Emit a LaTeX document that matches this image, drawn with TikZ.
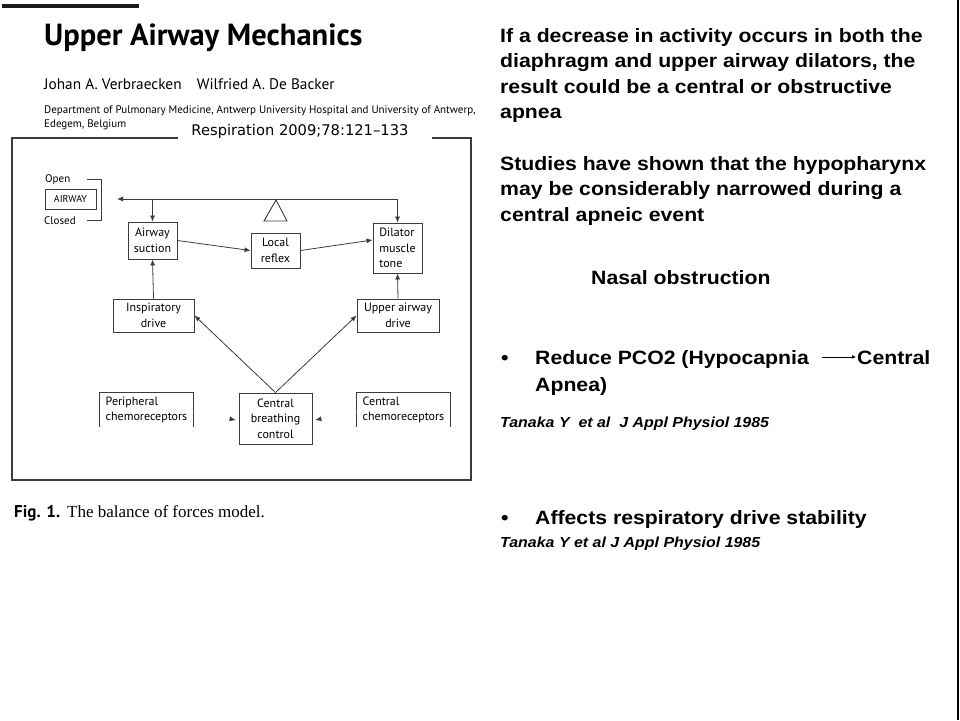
\documentclass[tikz,border=0pt]{standalone}
\usepackage{fontspec}
\setmainfont{Liberation Sans}[FakeStretch=1.1]
\newfontfamily\myriad{PT Sans}
\newfontfamily\minion{Liberation Serif}
\newfontfamily\verd{DejaVu Sans}
\usetikzlibrary{arrows.meta,positioning,calc}
\definecolor{ink}{HTML}{1A1A1A}
\definecolor{inkgray}{HTML}{3C3C3C}
\definecolor{faint}{HTML}{F7F7F7}
\tikzset{
  figbox/.style={draw=inkgray,line width=0.9pt,align=center,inner sep=0pt,
                 font=\myriad\fontsize{12}{15.5}\selectfont},
  openbox/.style={align=left,inner sep=0pt,
                  font=\myriad\fontsize{12}{15.5}\selectfont},
  figarr/.style={-{Latex[length=6pt,width=5pt]},line width=0.8pt,color=inkgray},
  tiparr/.style={-{Latex[length=6pt,width=5pt,color=inkgray]},line width=0.4pt,
                 draw=faint,shorten >=3pt},
  slidetext/.style={anchor=north west,inner sep=0pt,align=left,
                    font=\bfseries\fontsize{19.3}{25.5}\selectfont},
  bullettext/.style={anchor=base west,inner sep=0pt,
                     font=\bfseries\fontsize{19.3}{25.5}\selectfont},
  citetext/.style={anchor=base west,inner sep=0pt,
                   font=\bfseries\itshape\fontsize{14.5}{16}\selectfont}
}

\begin{document}
\begin{tikzpicture}[x=1pt,y=-1pt,>=Latex]
  \fill[white] (0,0) rectangle (960,720);
  \useasboundingbox (0,0) rectangle (960,720);
  % paper header
  \fill[ink] (2,4) rectangle (139,8);
  \node[anchor=base west,inner sep=0pt,font=\myriad\bfseries\fontsize{30.5}{32}\selectfont] (title) at (44,45) {Upper Airway Mechanics};
  \node[anchor=base west,inner sep=0pt,font=\myriad\fontsize{15.3}{17}\selectfont] (authors) at (44,89) {Johan A. Verbraecken\quad Wilfried A. De Backer};
  \node[anchor=base west,inner sep=0pt,font=\myriad\fontsize{11}{14}\selectfont] (affil) at (44,113) {Department of Pulmonary Medicine, Antwerp University Hospital and University of Antwerp,};
  \node[anchor=base west,inner sep=0pt,font=\myriad\fontsize{11}{14}\selectfont] (town) at (44,127) {Edegem, Belgium};
  \node[anchor=base,inner sep=0pt,font=\verd\fontsize{14.7}{16}\selectfont] (journal) at (300,135) {Respiration 2009;78:121–133};
  % frame
  \draw[inkgray,line width=1.2pt] (178,138) -- (12,138) -- (12,480) -- (471,480) -- (471,138) -- (432,138);
  % airway open/closed
  \node[anchor=base west,inner sep=0pt,font=\myriad\fontsize{11}{12}\selectfont] (open) at (45,182) {Open};
  \node[anchor=base west,inner sep=0pt,font=\myriad\fontsize{11}{12}\selectfont] (closed) at (44,224) {Closed};
  \node[figbox,minimum width=51pt,minimum height=20pt,font=\myriad\fontsize{10}{12}\selectfont] (airway) at (70.5,199) {AIRWAY};
  \draw[inkgray,line width=0.9pt] (87,179) -| (101,220) -- (87,220);
  \coordinate (aw) at (117,199);
  % boxes
  \node[figbox,minimum width=49pt,minimum height=37pt] (suction) at (152.5,240.5) {Airway\\suction};
  \node[figbox,minimum width=49pt,minimum height=35pt] (reflex) at (275.5,250.5) {Local\\reflex};
  \node[figbox,minimum width=49pt,minimum height=50pt,align=left] (dilator) at (397.5,248) {Dilator\\muscle\\tone};
  \node[figbox,minimum width=81pt,minimum height=33pt] (insp) at (153.5,315.5) {Inspiratory\\drive};
  \node[figbox,minimum width=82pt,minimum height=33pt] (uad) at (398,315.5) {Upper airway\\drive};
  \node[figbox,minimum width=73pt,minimum height=51pt] (cbc) at (275.5,418.5) {Central\\breathing\\control};
  \node[openbox,minimum width=93pt,minimum height=34pt] (peri) at (146.5,410) {Peripheral\\chemoreceptors};
  \node[openbox,minimum width=93pt,minimum height=34pt] (cchemo) at (403.5,410) {Central\\chemoreceptors};
  \draw[inkgray,line width=0.9pt] (peri.south west) -- (peri.north west) -- (peri.north east) -- (peri.south east);
  \draw[inkgray,line width=0.9pt] (cchemo.south west) -- (cchemo.north west) -- (cchemo.north east) -- (cchemo.south east);
  % balance triangle
  \draw[inkgray,line width=0.9pt] (276,200) -- (287,221) -- (264,221) -- cycle;
  % connectors
  \draw[figarr] (aw -| dilator.north) -- (aw);
  \draw[figarr] (aw -| dilator.north) -- (dilator.north);
  \draw[figarr] (aw -| suction.north) -- (suction.north);
  \draw[figarr] (suction.east) -- (reflex.west);
  \draw[figarr] (reflex.east) -- ([yshift=8pt]dilator.west);
  \draw[figarr] (insp.north) -- (suction.south);
  \draw[figarr] (uad.north) -- (dilator.south);
  \draw[figarr] (cbc.north) -- (insp.east);
  \draw[figarr] (cbc.north) -- (uad.west);
  \draw[tiparr] ([yshift=-2pt]peri.east) -- ([yshift=-2pt]cbc.west);
  \draw[tiparr] ([yshift=-2pt]cchemo.west) -- ([yshift=-2pt]cbc.east);
  \node[anchor=base west,inner sep=0pt,font=\fontsize{17}{18}\selectfont] (caption) at (14,517) {{\myriad\bfseries Fig. 1.} {\minion The balance of forces model.}};
  % slide text
  \node[slidetext] (para1) at (500,28) {If a decrease in activity occurs in both the\\diaphragm and upper airway dilators, the\\result could be a central or obstructive\\apnea};
  \node[slidetext] (para2) at (500,156) {Studies have shown that the hypopharynx\\may be considerably narrowed during a\\central apneic event};
  \node[bullettext] (nasal) at (591,284) {Nasal obstruction};
  \node[bullettext] (dot1) at (501,364) {\textbullet};
  \node[bullettext] (pco) at (535,364) {Reduce PCO2 (Hypocapnia};
  \node[bullettext] (ctr) at (857,364) {Central};
  \node[bullettext] (apnea) at (535,391) {Apnea)};
  \draw[-{Latex[length=4pt,width=4pt]},line width=1pt] ($(pco.base east)+(13,-7)$) -- ($(ctr.base west)+(-1,-7)$);
  \node[citetext] (cite1) at (500,427) {Tanaka Y\ \ et al\ \ J Appl Physiol 1985};
  \node[bullettext] (dot2) at (501,524) {\textbullet};
  \node[bullettext] (affects) at (535,524) {Affects respiratory drive stability};
  \node[citetext] (cite2) at (500,547) {Tanaka Y et al J Appl Physiol 1985};
  \draw[black,line width=2pt] (958,0) -- (958,720);
\end{tikzpicture}
\end{document}
